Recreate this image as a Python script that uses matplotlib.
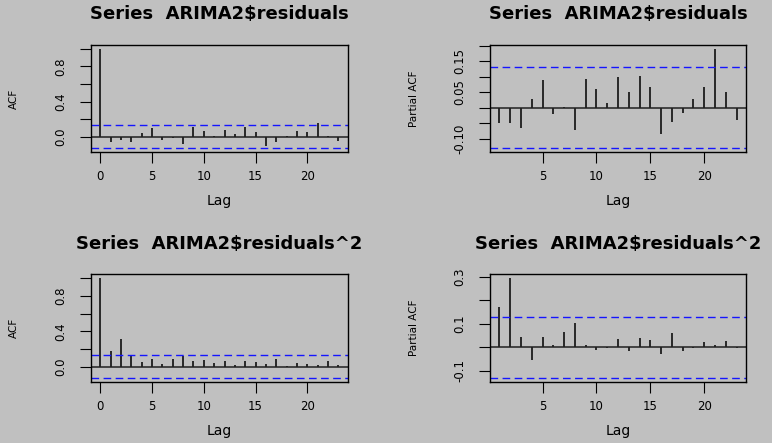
import matplotlib
matplotlib.use("Agg")
import matplotlib.pyplot as plt
import numpy as np

# ACF / PACF der Residuen
lags_acf = np.arange(0, 24)
lags_pacf = np.arange(1, 24)

acf_res = [1.0, -0.057, -0.04, -0.06, 0.04, 0.095, -0.035, -0.01, -0.08, 0.11,
           0.065, 0.01, 0.075, 0.03, 0.11, 0.05, -0.10, -0.055, 0.005, 0.065,
           0.055, 0.16, 0.01, -0.045]
pacf_res = [-0.048, -0.048, -0.064, 0.028, 0.089, -0.021, 0.003, -0.072, 0.092,
            0.062, 0.014, 0.10, 0.05, 0.103, 0.067, -0.085, -0.046, -0.016,
            0.028, 0.067, 0.19, 0.05, -0.04]
acf_sq = [1.0, 0.172, 0.312, 0.122, 0.057, 0.084, 0.029, 0.085, 0.123, 0.066,
          0.077, 0.04, 0.06, 0.023, 0.06, 0.053, 0.026, 0.09, 0.011, 0.042,
          0.034, 0.023, 0.06, 0.023]
pacf_sq = [0.173, 0.294, 0.043, -0.054, 0.043, 0.011, 0.064, 0.106, 0.009,
           -0.013, -0.004, 0.037, -0.014, 0.041, 0.031, -0.028, 0.062, -0.017,
           -0.004, 0.024, 0.01, 0.028, -0.001]

ci = 0.13  # Konfidenzband (blau gestrichelt)

titel_res = r"Series  ARIMA2\$residuals"
titel_sq = r"Series  ARIMA2\$residuals^2"

acf_ticks = [0.0, 0.2, 0.4, 0.6, 0.8, 1.0]
acf_ticklabels = ["0.0", "", "0.4", "", "0.8", ""]
pacf_res_ticks = [-0.10, -0.05, 0.0, 0.05, 0.10, 0.15, 0.20]
pacf_res_ticklabels = ["-0.10", "", "", "0.05", "", "0.15", ""]
pacf_sq_ticks = [-0.1, 0.0, 0.1, 0.2, 0.3]
pacf_sq_ticklabels = ["-0.1", "", "0.1", "", "0.3"]

W, H = 772, 443
bg = "#c0c0c0"

fig = plt.figure(figsize=(W / 100, H / 100), dpi=100, facecolor=bg)


def panel(box_px, lags, werte, titel, ylabel, yticks, yticklabels, xticks):
    x0, y0, x1, y1 = box_px
    hoehe = y1 - y0
    ax = fig.add_axes([x0 / W, 1 - y1 / H, (x1 - x0) / W, hoehe / H])
    ax.set_facecolor(bg)
    ax.vlines(lags, 0, werte, color="black", lw=1.1)
    ax.axhline(0, color="#202020", lw=1.1)
    for s in (ci, -ci):
        ax.axhline(s, color="#1515ff", lw=1.0, ls=(0, (5.5, 3.2)))

    # R-artige Achsengrenzen (4% Rand)
    lo = min(min(werte), -ci)
    hi = max(max(werte), ci)
    d = (hi - lo) * 0.04
    ax.set_ylim(lo - d, hi + d)
    xd = (lags[-1] - lags[0]) * 0.04
    ax.set_xlim(lags[0] - xd, lags[-1] + xd)

    ax.set_yticks(yticks)
    ax.set_yticklabels(yticklabels, rotation=90, va="center")
    ax.set_xticks(xticks)
    ax.tick_params(axis="y", length=8, width=0.8, pad=9, labelsize=8.5,
                   colors="black")
    ax.tick_params(axis="x", length=8, width=0.8, pad=5, labelsize=8.5,
                   colors="black")
    for sp in ax.spines.values():
        sp.set_linewidth(1.0)
        sp.set_color("black")

    # Titel ca. 30 px über dem Rahmen
    ax.set_title(titel, fontsize=13, fontweight="bold", pad=0,
                 y=1 + 30.4 / hoehe, va="center")
    ax.set_xlabel("Lag", fontsize=10, va="center")
    ax.xaxis.set_label_coords(0.5, -48.7 / hoehe)
    ax.set_ylabel(ylabel, fontsize=7.5, va="center")
    ax.yaxis.set_label_coords(-0.298, 0.5)
    return ax


panel((90.7, 44.7, 348, 152.3), lags_acf, acf_res, titel_res, "ACF",
      acf_ticks, acf_ticklabels, [0, 5, 10, 15, 20])
panel((490, 44.7, 746, 152.3), lags_pacf, pacf_res, titel_res, "Partial ACF",
      pacf_res_ticks, pacf_res_ticklabels, [5, 10, 15, 20])
panel((90.7, 274.3, 348, 382), lags_acf, acf_sq, titel_sq, "ACF",
      acf_ticks, acf_ticklabels, [0, 5, 10, 15, 20])
panel((490, 274.3, 746, 382), lags_pacf, pacf_sq, titel_sq, "Partial ACF",
      pacf_sq_ticks, pacf_sq_ticklabels, [5, 10, 15, 20])

fig.savefig("out.png", dpi=100, facecolor=bg)
